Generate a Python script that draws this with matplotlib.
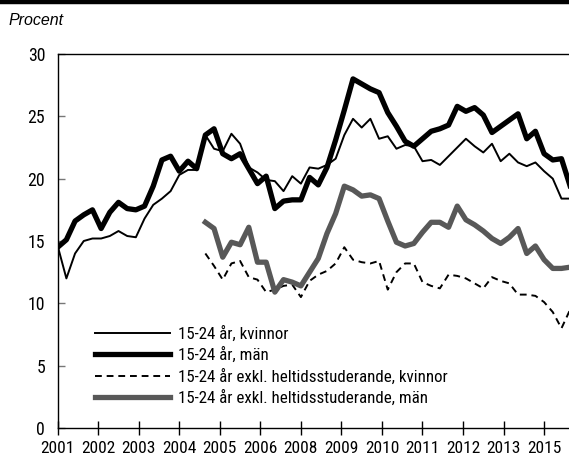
import numpy as np
import matplotlib
matplotlib.use("Agg")
import matplotlib.pyplot as plt
from matplotlib.lines import Line2D

# months since Jan 2001, one point per quarter
months = np.arange(60) * 3

kvinnor = [14.6, 12.0, 14.0, 15.0, 15.2, 15.2, 15.4, 15.8, 15.4, 15.3,
           16.8, 17.9, 18.4, 19.0, 20.3, 20.7, 20.7, 23.5, 22.4, 22.2,
           23.6, 22.8, 20.9, 20.5, 19.9, 19.8, 19.0, 20.2, 19.6, 20.9,
           20.8, 21.1, 21.6, 23.5, 24.8, 24.1, 24.8, 23.2, 23.4, 22.4,
           22.7, 22.6, 21.4, 21.5, 21.1, 21.8, 22.5, 23.2, 22.6, 22.1,
           22.8, 21.4, 22.0, 21.3, 21.0, 21.3, 20.6, 20.0, 18.4, 18.4]

man = [14.5, 15.1, 16.6, 17.1, 17.5, 16.0, 17.3, 18.1, 17.6, 17.5,
       17.8, 19.4, 21.5, 21.8, 20.6, 21.4, 20.8, 23.5, 24.0, 22.0,
       21.6, 22.0, 20.8, 19.6, 20.2, 17.6, 18.2, 18.3, 18.3, 20.1,
       19.5, 20.9, 23.1, 25.5, 28.0, 27.6, 27.2, 26.9, 25.3, 24.2,
       23.0, 22.6, 23.2, 23.8, 24.0, 24.3, 25.8, 25.4, 25.7, 25.1,
       23.7, 24.2, 24.7, 25.2, 23.2, 23.8, 22.0, 21.5, 21.6, 19.4]

# series excluding full-time students start in 2005
exkl_start = 17
exkl_kvinnor = [14.0, 13.0, 11.9, 13.2, 13.4, 12.1, 11.9, 10.9, 11.1, 11.4,
                11.5, 10.5, 11.8, 12.3, 12.6, 13.2, 14.5, 13.5, 13.3, 13.2,
                13.4, 11.1, 12.5, 13.2, 13.2, 11.7, 11.4, 11.2, 12.3, 12.2,
                12.0, 11.6, 11.2, 12.1, 11.8, 11.6, 10.7, 10.7, 10.6, 10.1,
                9.3, 8.0, 9.5]
exkl_man = [16.5, 16.0, 13.7, 14.9, 14.7, 16.1, 13.3, 13.3, 10.9, 11.9,
            11.7, 11.4, 12.5, 13.6, 15.6, 17.2, 19.4, 19.1, 18.6, 18.7,
            18.4, 16.6, 14.9, 14.6, 14.8, 15.7, 16.5, 16.5, 16.1, 17.8,
            16.7, 16.3, 15.8, 15.2, 14.8, 15.3, 16.0, 14.0, 14.6, 13.5,
            12.8, 12.8, 12.9]

labels = ['15-24 år, kvinnor', '15-24 år, män',
          '15-24 år exkl. heltidsstuderande, kvinnor',
          '15-24 år exkl. heltidsstuderande, män']

tick_months = np.arange(0, 177, 14)
tick_labels = [str(2001 + m // 12) for m in tick_months]

narrow = ['Roboto Condensed', 'DejaVu Sans']

fig = plt.figure(figsize=(5.69, 4.59), dpi=100)
ax = fig.add_axes([0.1014, 0.0675, 0.8986, 0.8149])

x_exkl = months[exkl_start:]
ax.plot(months, kvinnor, color='black', lw=1.4, label=labels[0])
ax.plot(months, man, color='black', lw=3.8, label=labels[1])
ax.plot(x_exkl, exkl_kvinnor, color='black', lw=1.4, ls=(0, (3.5, 2.5)), label=labels[2])
ax.plot(x_exkl, exkl_man, color='#585858', lw=3.8, label=labels[3])

ax.set_xlim(0, 176.6)
ax.set_ylim(0, 30)
ax.set_yticks(range(0, 31, 5))
ax.set_xticks(tick_months)
ax.set_xticklabels(tick_labels)

for lab in ax.get_yticklabels():
    lab.set_family(narrow)
    lab.set_fontsize(12.8)
for lab in ax.get_xticklabels():
    lab.set_family(narrow)
    lab.set_fontsize(12.5)

ax.tick_params(axis='y', direction='in', length=5, width=1, color='#777777', pad=9)
ax.tick_params(axis='x', direction='inout', length=10, width=1, pad=4.5)
ax.spines['right'].set_visible(False)
for s in ['left', 'top', 'bottom']:
    ax.spines[s].set_linewidth(1.0)

leg = ax.legend(loc='lower left', bbox_to_anchor=(0.06, 0.04), frameon=False,
                handlelength=4.4, handletextpad=0.5, labelspacing=0.32,
                borderaxespad=0, prop={'family': narrow, 'size': 12.2})

fig.add_artist(Line2D([0, 1], [0.995, 0.995], color='black', lw=3.2,
                      transform=fig.transFigure))
fig.text(0.015, 0.955, 'Procent', fontstyle='italic', fontsize=11.5,
         family=['Liberation Sans', 'DejaVu Sans'], va='center', ha='left')

fig.savefig('out.png', dpi=100)
